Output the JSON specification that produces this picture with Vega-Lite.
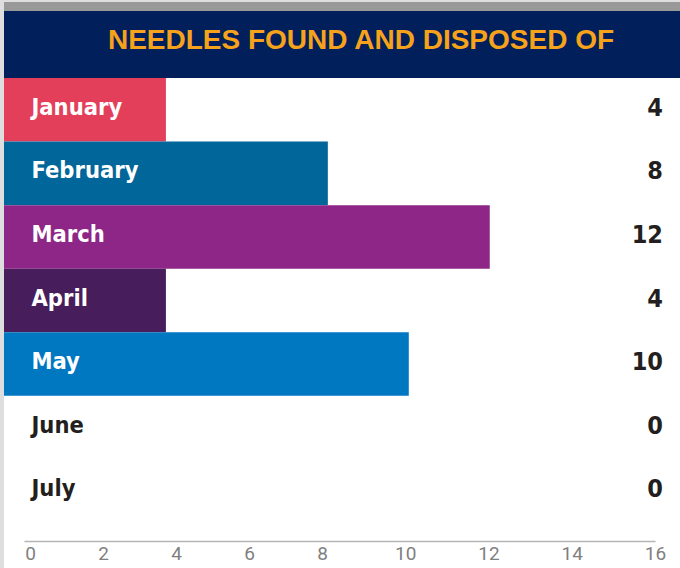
{
  "$schema": "https://vega.github.io/schema/vega-lite/v6.json",
  "background": "#dedede",
  "padding": {"left": 4, "top": 0, "right": 0, "bottom": 0},
  "spacing": 0,
  "bounds": "flush",
  "config": {"view": {"stroke": null}, "font": "Liberation Sans"},
  "vconcat": [
    {
      "width": 676,
      "height": 9,
      "view": {"fill": "#999999", "stroke": null},
      "data": {"values": [{"t": ""}]},
      "mark": {"type": "text"},
      "encoding": {"text": {"field": "t"}}
    },
    {
      "width": 676,
      "height": 67,
      "view": {"fill": "#001f5b", "stroke": null},
      "data": {"values": [{"title": "NEEDLES FOUND AND DISPOSED OF"}]},
      "mark": {"type": "text", "font": "Liberation Sans", "fontWeight": "bold", "fontSize": 28, "color": "#f7a21b", "baseline": "middle", "align": "center", "dx": 19, "dy": -4},
      "encoding": {"text": {"field": "title"}}
    },
    {
      "width": 676,
      "height": 492,
      "view": {"fill": "#ffffff", "stroke": null},
      "data": {"values": [
        {"month": "January", "needles": 4},
        {"month": "February", "needles": 8},
        {"month": "March", "needles": 12},
        {"month": "April", "needles": 4},
        {"month": "May", "needles": 10},
        {"month": "June", "needles": 0},
        {"month": "July", "needles": 0}
      ]},
      "layer": [
        {
          "mark": {"type": "bar"},
          "encoding": {
            "y": {
              "field": "month", "type": "nominal", "sort": null,
              "scale": {"domain": ["January", "February", "March", "April", "May", "June", "July"], "range": [0, 445], "paddingInner": 0, "paddingOuter": 0},
              "axis": {
                "title": null, "orient": "left", "domain": false, "ticks": false, "tickSize": 0,
                "labelAlign": "left", "labelBaseline": "middle", "labelPadding": -27, "labelOffset": -2,
                "labelFont": "DejaVu Sans Condensed", "labelFontWeight": "bold", "labelFontSize": 23.5,
                "labelColor": {"expr": "indexof(['June','July'], datum.value) >= 0 ? '#231f20' : '#ffffff'"},
                "zindex": 1
              }
            },
            "x": {"field": "needles", "type": "quantitative", "scale": {"domain": [0, 16.7], "nice": false, "zero": false}, "axis": null},
            "color": {
              "field": "month", "type": "nominal", "legend": null,
              "scale": {"domain": ["January", "February", "March", "April", "May", "June", "July"], "range": ["#e43f5a", "#01669a", "#8e2687", "#471d5c", "#0077c1", "#ffffff", "#ffffff"]}
            }
          }
        },
        {
          "mark": {"type": "text", "align": "right", "baseline": "middle", "dx": -17, "dy": -2, "font": "DejaVu Sans Condensed", "fontWeight": "bold", "fontSize": 25, "color": "#231f20"},
          "encoding": {
            "y": {"field": "month", "type": "nominal", "sort": null},
            "x": {"value": "width"},
            "text": {"field": "needles", "type": "quantitative"}
          }
        },
        {
          "mark": {"type": "point", "opacity": 0},
          "encoding": {
            "x": {
              "field": "needles", "type": "quantitative",
              "scale": {"domain": [-0.2, 0, 8, 16], "range": [20, 26, 318, 651], "nice": false, "zero": false},
              "axis": {
                "orient": "bottom", "offset": -29, "values": [0, 2, 4, 6, 8, 10, 12, 14, 16], "title": null,
                "ticks": false, "grid": false, "domainColor": "#b5b5b5", "domainWidth": 1.5,
                "labelColor": "#7f7f7f", "labelFont": "Roboto", "labelFontSize": 19, "labelPadding": 3,
                "labelFlush": false, "labelOverlap": false
              }
            }
          }
        }
      ],
      "resolve": {"scale": {"x": "independent"}, "axis": {"x": "independent"}}
    }
  ]
}
